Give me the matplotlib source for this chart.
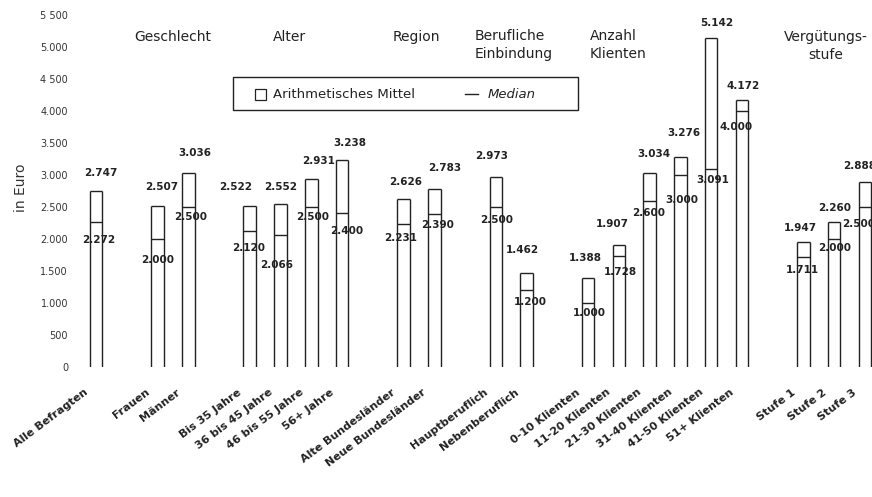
import matplotlib
matplotlib.use('Agg')
import matplotlib.pyplot as plt
from matplotlib.patches import Rectangle
from matplotlib.lines import Line2D

# data (Euro)
categories = ['Alle Befragten', 'Frauen', 'Männer',
              'Bis 35 Jahre', '36 bis 45 Jahre', '46 bis 55 Jahre', '56+ Jahre',
              'Alte Bundesländer', 'Neue Bundesländer',
              'Hauptberuflich', 'Nebenberuflich',
              '0-10 Klienten', '11-20 Klienten', '21-30 Klienten',
              '31-40 Klienten', '41-50 Klienten', '51+ Klienten',
              'Stufe 1', 'Stufe 2', 'Stufe 3']
group_sizes = [1, 2, 4, 2, 2, 6, 3]
means = [2747, 2507, 3036, 2522, 2552, 2931, 3238, 2626, 2783, 2973, 1462,
         1388, 1907, 3034, 3276, 5142, 4172, 1947, 2260, 2888]
medians = [2272, 2000, 2500, 2120, 2066, 2500, 2400, 2231, 2390, 2500, 1200,
           1000, 1728, 2600, 3000, 3091, 4000, 1711, 2000, 2500]
yticks = [0, 500, 1000, 1500, 2000, 2500, 3000, 3500, 4000, 4500, 5000, 5500]
ytick_labels = ['0', '500', '1.000', '1.500', '2.000', '2.500', '3.000',
                '3.500', '4.000', '4 500', '5.000', '5 500']

# label nudges in pixels (dx, dy), to mimic the hand placed numbers
mean_off = [(5, 18), (4.5, 19), (6.5, 20), (-14, 19), (0.5, 17), (7, 18), (7.5, 17),
            (2, 17), (10.5, 21), (-4, 21), (-4, 23), (-3, 20), (-6.5, 21), (4, 19),
            (3, 24), (6, 15), (1, 14), (-3, 14), (0, 14), (-5, 16)]
med_off = [(3, -18), (0, -21), (2.5, -10), (-1, -17), (-3.5, -30), (1, -10), (4.5, -18),
           (-3, -14), (3.5, -11), (1, -13), (4, -12), (1, -10), (1.5, -16), (-1, -12),
           (1, -25), (2, -11), (-6, -16), (-1, -13), (0, -9), (-6, -17)]

W, H = 872, 497


def fx(px):
    return px / W


def fy(py):
    return 1 - py / H


def de(v):
    return '{:,}'.format(v).replace(',', '.')


# slot positions: one empty slot between groups
xs = []
i = 0
for g, n in enumerate(group_sizes):
    for k in range(n):
        xs.append(i + g)
        i += 1

fig = plt.figure(figsize=(W / 100, H / 100), dpi=100)
ax = fig.add_axes([fx(75), fy(367), fx(872 - 75), (367 - 2) / H])
ax.set_xlim(-0.683, 25.23)
ax.set_ylim(0, 5700)

bw = 0.41
lw = 1.0
for x, m, md in zip(xs, means, medians):
    ax.bar(x, m, width=bw, color='white', linewidth=0)
    ax.vlines([x - bw / 2, x + bw / 2], 0, m, color='#222222', lw=lw)
    ax.hlines([m, md], x - bw / 2, x + bw / 2, color='#222222', lw=lw)

for x, m, md, mo, do in zip(xs, means, medians, mean_off, med_off):
    ax.annotate(de(m), (x, m), xytext=mo, textcoords='offset pixels',
                ha='center', va='center', fontsize=7.5, fontweight='bold',
                color='#222222', annotation_clip=False)
    ax.annotate(de(md), (x, md), xytext=do, textcoords='offset pixels',
                ha='center', va='center', fontsize=7.5, fontweight='bold',
                color='#222222', annotation_clip=False)

ax.set_yticks(yticks)
ax.set_yticklabels(ytick_labels, fontsize=7, color='#333333')
ax.tick_params(axis='y', length=0, pad=5)
ax.set_xticks([])
for s in ax.spines.values():
    s.set_visible(False)

# rotated category labels under the bars
trans = ax.get_xaxis_transform()
for x, c in zip(xs, categories):
    ax.text(x - 0.3, -24 / (ax.get_position().height * H), c, transform=trans,
            rotation=37, rotation_mode='anchor', ha='right', va='center',
            fontsize=8, fontweight='bold', color='#222222')

fig.text(fx(21), fy(188), 'in Euro', rotation=90, ha='center', va='center',
         fontsize=10, color='#333333')

# group headers
hdr = dict(fontsize=10, color='#222222', va='center')
fig.text(fx(173), fy(37), 'Geschlecht', ha='center', **hdr)
fig.text(fx(289), fy(37), 'Alter', ha='center', **hdr)
fig.text(fx(416), fy(37), 'Region', ha='center', **hdr)
fig.text(fx(475), fy(45), 'Berufliche\nEinbindung', ha='left', linespacing=1.4, **hdr)
fig.text(fx(590), fy(45), 'Anzahl\nKlienten', ha='left', linespacing=1.4, **hdr)
fig.text(fx(826), fy(46), 'Vergütungs-\nstufe', ha='center', multialignment='center',
         linespacing=1.3, **hdr)

# legend box
fig.patches.append(Rectangle((fx(233), fy(110)), fx(578 - 233), (110 - 77) / H,
                             transform=fig.transFigure, fill=False,
                             edgecolor='#222222', lw=1.0))
fig.patches.append(Rectangle((fx(255), fy(100)), fx(11), 11 / H,
                             transform=fig.transFigure, fill=False,
                             edgecolor='#222222', lw=0.9))
fig.text(fx(273), fy(94), 'Arithmetisches Mittel', ha='left', va='center',
         fontsize=9.5, color='#222222')
fig.lines.append(Line2D([fx(465), fx(478)], [fy(94), fy(94)],
                        transform=fig.transFigure, color='#222222', lw=1.0))
fig.text(fx(488), fy(94), 'Median', ha='left', va='center', fontsize=9.5,
         style='italic', color='#222222')

fig.savefig('out.png', dpi=100)
